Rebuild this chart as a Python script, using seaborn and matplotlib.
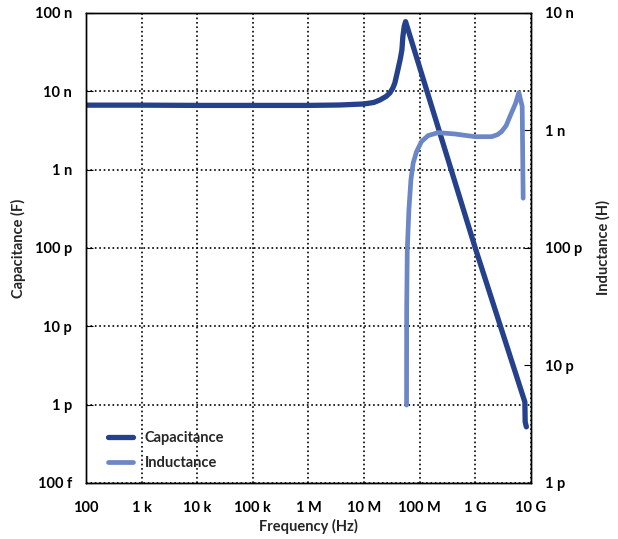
import numpy as np
import pandas as pd
import seaborn as sns
import matplotlib.pyplot as plt
from matplotlib.ticker import FixedLocator, NullLocator
from matplotlib.lines import Line2D

# Datos (frecuencia en Hz)
cap_freq = [1e2, 1e3, 1e4, 1e5, 1e6, 3.68e6, 1e7, 1.5e7, 1.93e7, 2.5e7, 2.92e7,
            3.3e7, 3.59e7, 4.06e7, 4.5e7, 4.8e7, 5.0e7, 5.3e7, 5.59e7, 1e9, 7.8e9,
            7.9e9, 8.3e9]
cap_vals = [6.65e-9, 6.65e-9, 6.6e-9, 6.6e-9, 6.6e-9, 6.68e-9, 6.89e-9, 7.2e-9,
            7.74e-9, 8.6e-9, 9.53e-9, 1.1e-8, 1.28e-8, 1.87e-8, 2.6e-8, 3.37e-8,
            5.0e-8, 6.8e-8, 7.74e-8, 1.0e-10, 1.08e-12, 6e-13, 5.2e-13]

ind_freq = [5.82e7, 5.85e7, 6.0e7, 6.41e7, 6.97e7, 7.66e7, 8.81e7, 1.08e8, 1.42e8,
            2.15e8, 4.3e8, 9.84e8, 1.97e9, 2.5e9, 2.97e9, 3.6e9, 4.19e9, 5.31e9,
            6.08e9, 6.98e9, 7.27e9]
ind_vals = [4.6e-12, 3e-11, 9.6e-11, 2.1e-10, 3.79e-10, 5.29e-10, 6.6e-10, 8.04e-10,
            9.04e-10, 9.58e-10, 9.33e-10, 8.85e-10, 8.85e-10, 9.2e-10, 9.77e-10,
            1.1e-9, 1.31e-9, 1.70e-9, 2.10e-9, 1.6e-9, 2.65e-10]

x_ticks = [1e2, 1e3, 1e4, 1e5, 1e6, 1e7, 1e8, 1e9, 1e10]
x_labels = ["100", "1 k", "10 k", "100 k", "1 M", "10 M", "100 M", "1 G", "10 G"]
cap_ticks = [1e-13, 1e-12, 1e-11, 1e-10, 1e-9, 1e-8, 1e-7]
cap_labels = ["100 f", "1 p", "10 p", "100 p", "1 n", "10 n", "100 n"]
ind_ticks = [1e-12, 1e-11, 1e-10, 1e-9, 1e-8]
ind_labels = ["1 p", "10 p", "100 p", "1 n", "10 n"]

dark = "#26418c"
light = "#6c87c6"

sns.set_style("white")
plt.rcParams["font.family"] = ["Lato", "DejaVu Sans"]
plt.rcParams["font.weight"] = "bold"

cap_df = pd.DataFrame({"f": cap_freq, "C": cap_vals})
ind_df = pd.DataFrame({"f": ind_freq, "L": ind_vals})

fig = plt.figure(figsize=(6.18, 5.39), dpi=100)
ax = fig.add_axes([0.139, 0.104, 0.720, 0.872])
ax2 = ax.twinx()

sns.lineplot(data=cap_df, x="f", y="C", ax=ax, color=dark, lw=3.8, sort=False,
             label="Capacitance", legend=False)
sns.lineplot(data=ind_df, x="f", y="L", ax=ax2, color=light, lw=3.4, sort=False,
             label="Inductance", legend=False)

ax.set_xscale("log")
ax.set_yscale("log")
ax2.set_yscale("log")
ax.set_xlim(1e2, 1e10)
ax.set_ylim(1e-13, 1e-7)
ax2.set_ylim(1e-12, 1e-8)

ax.xaxis.set_major_locator(FixedLocator(x_ticks))
ax.set_xticklabels(x_labels)
ax.xaxis.set_minor_locator(NullLocator())
ax.yaxis.set_major_locator(FixedLocator(cap_ticks))
ax.set_yticklabels(cap_labels)
ax.yaxis.set_minor_locator(NullLocator())
ax2.yaxis.set_major_locator(FixedLocator(ind_ticks))
ax2.set_yticklabels(ind_labels)
ax2.yaxis.set_minor_locator(NullLocator())

ax.grid(True, which="major", color="black", linestyle=":", linewidth=1.2)
ax.tick_params(axis="both", direction="in", length=5, labelsize=10.5, pad=10, colors="black")
ax2.tick_params(axis="y", direction="in", length=5, labelsize=10.5, pad=10, colors="black")
ax.tick_params(axis="x", pad=13)

for a in (ax, ax2):
    for s in a.spines.values():
        s.set_color("black")
        s.set_linewidth(1.0)

ax.set_xlabel("Frequency (Hz)", fontsize=10.5, fontweight="bold", labelpad=3)
ax.set_ylabel("Capacitance (F)", fontsize=10.5, fontweight="bold", labelpad=6)
ax2.set_ylabel("Inductance (H)", fontsize=10.5, fontweight="bold", labelpad=10)

handles = [Line2D([0], [0], color=dark, lw=3.8), Line2D([0], [0], color=light, lw=3.4)]
ax2.legend(handles, ["Capacitance", "Inductance"], loc="lower left",
           bbox_to_anchor=(0.02, 0.0), frameon=False, handlelength=1.7,
           fontsize=10.5, labelspacing=0.75, handletextpad=0.8)

fig.savefig("out.png", dpi=100)
